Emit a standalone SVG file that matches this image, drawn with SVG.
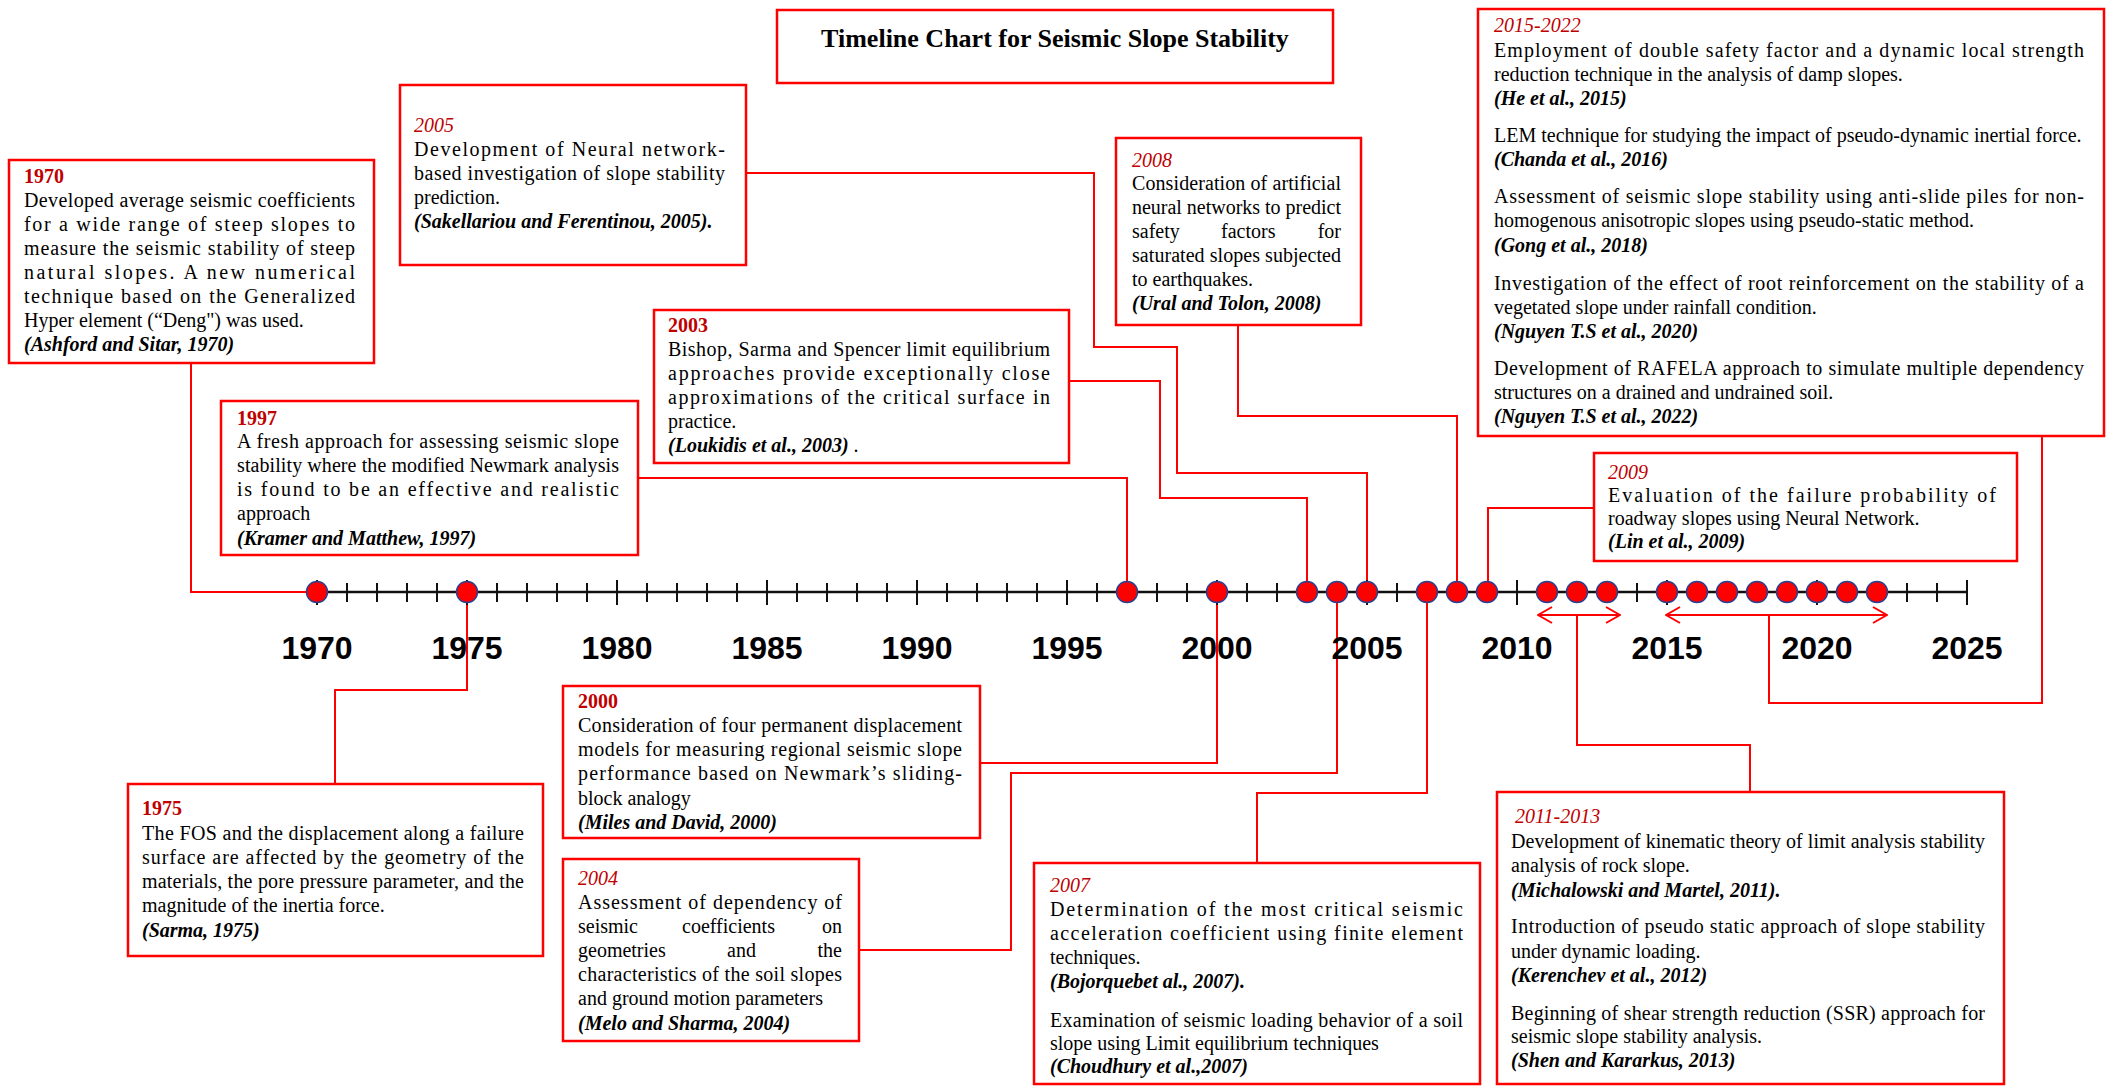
<svg xmlns="http://www.w3.org/2000/svg" width="2109" height="1087" viewBox="0 0 2109 1087">
<style>
.box{fill:#fff;stroke:#ff0000;stroke-width:2.5}
.t{font-family:'Liberation Serif','Times New Roman',serif;font-size:20px;fill:#000}
.yr{fill:#c00000;font-weight:bold}
.yi{fill:#c00000;font-style:italic}
.ci{font-weight:bold;font-style:italic}
.conn{fill:none;stroke:#ff0000;stroke-width:2}
.ax{stroke:#111;stroke-width:2.5}
.tk{stroke:#111;stroke-width:2}
.dot{fill:#ff0000;stroke:#2a3f8f;stroke-width:1.5}
.lab{font-family:'Liberation Sans',Arial,sans-serif;font-weight:bold;font-size:32px;text-anchor:middle;fill:#000}
.title{font-family:'Liberation Serif','Times New Roman',serif;font-size:26px;font-weight:bold;text-anchor:middle}
.e{text-anchor:end}
</style>
<defs>
<marker id="chev" viewBox="0 0 16 18" refX="15" refY="9" markerWidth="16" markerHeight="18" markerUnits="userSpaceOnUse" orient="auto-start-reverse">
<path d="M1,1 L15,9 L1,17" fill="none" stroke="#ff0000" stroke-width="2"/>
</marker>
</defs>
<rect width="2109" height="1087" fill="#fff"/>

<g id="connectors">
<path class="conn" d="M191,363 V592 H306"/>
<path class="conn" d="M467,602 V690 H335 V784"/>
<path class="conn" d="M638,478 H1127 V582"/>
<path class="conn" d="M746,173 H1094 V347 H1177 V473 H1367 V582"/>
<path class="conn" d="M1069,381 H1160 V498 H1307 V582"/>
<path class="conn" d="M980,763 H1217 V602"/>
<path class="conn" d="M859,950 H1011 V773 H1337 V602"/>
<path class="conn" d="M1427,602 V793 H1257 V863"/>
<path class="conn" d="M1238,325 V416 H1457 V582"/>
<path class="conn" d="M1594,508 H1488 V582"/>
<path class="conn" d="M1577,615 V745 H1750 V792"/>
<path class="conn" d="M1769,615 V703 H2042 V436"/>
<line class="conn" x1="1538" y1="615" x2="1620" y2="615" marker-start="url(#chev)" marker-end="url(#chev)"/>
<line class="conn" x1="1666" y1="615" x2="1887" y2="615" marker-start="url(#chev)" marker-end="url(#chev)"/>
</g>

<g id="timeline">
<line class="ax" x1="317" y1="592" x2="1967" y2="592"/>
<g class="tk">
<line x1="317" y1="580" x2="317" y2="605"/><line x1="347" y1="583" x2="347" y2="602"/><line x1="377" y1="583" x2="377" y2="602"/><line x1="407" y1="583" x2="407" y2="602"/><line x1="437" y1="583" x2="437" y2="602"/>
<line x1="467" y1="580" x2="467" y2="605"/><line x1="497" y1="583" x2="497" y2="602"/><line x1="527" y1="583" x2="527" y2="602"/><line x1="557" y1="583" x2="557" y2="602"/><line x1="587" y1="583" x2="587" y2="602"/>
<line x1="617" y1="580" x2="617" y2="605"/><line x1="647" y1="583" x2="647" y2="602"/><line x1="677" y1="583" x2="677" y2="602"/><line x1="707" y1="583" x2="707" y2="602"/><line x1="737" y1="583" x2="737" y2="602"/>
<line x1="767" y1="580" x2="767" y2="605"/><line x1="797" y1="583" x2="797" y2="602"/><line x1="827" y1="583" x2="827" y2="602"/><line x1="857" y1="583" x2="857" y2="602"/><line x1="887" y1="583" x2="887" y2="602"/>
<line x1="917" y1="580" x2="917" y2="605"/><line x1="947" y1="583" x2="947" y2="602"/><line x1="977" y1="583" x2="977" y2="602"/><line x1="1007" y1="583" x2="1007" y2="602"/><line x1="1037" y1="583" x2="1037" y2="602"/>
<line x1="1067" y1="580" x2="1067" y2="605"/><line x1="1097" y1="583" x2="1097" y2="602"/><line x1="1127" y1="583" x2="1127" y2="602"/><line x1="1157" y1="583" x2="1157" y2="602"/><line x1="1187" y1="583" x2="1187" y2="602"/>
<line x1="1217" y1="580" x2="1217" y2="605"/><line x1="1247" y1="583" x2="1247" y2="602"/><line x1="1277" y1="583" x2="1277" y2="602"/><line x1="1307" y1="583" x2="1307" y2="602"/><line x1="1337" y1="583" x2="1337" y2="602"/>
<line x1="1367" y1="580" x2="1367" y2="605"/><line x1="1397" y1="583" x2="1397" y2="602"/><line x1="1427" y1="583" x2="1427" y2="602"/><line x1="1457" y1="583" x2="1457" y2="602"/><line x1="1487" y1="583" x2="1487" y2="602"/>
<line x1="1517" y1="580" x2="1517" y2="605"/><line x1="1547" y1="583" x2="1547" y2="602"/><line x1="1577" y1="583" x2="1577" y2="602"/><line x1="1607" y1="583" x2="1607" y2="602"/><line x1="1637" y1="583" x2="1637" y2="602"/>
<line x1="1667" y1="580" x2="1667" y2="605"/><line x1="1697" y1="583" x2="1697" y2="602"/><line x1="1727" y1="583" x2="1727" y2="602"/><line x1="1757" y1="583" x2="1757" y2="602"/><line x1="1787" y1="583" x2="1787" y2="602"/>
<line x1="1817" y1="580" x2="1817" y2="605"/><line x1="1847" y1="583" x2="1847" y2="602"/><line x1="1877" y1="583" x2="1877" y2="602"/><line x1="1907" y1="583" x2="1907" y2="602"/><line x1="1937" y1="583" x2="1937" y2="602"/>
<line x1="1967" y1="580" x2="1967" y2="605"/>
</g>
<g class="dot">
<circle cx="317" cy="592" r="10.5"/><circle cx="467" cy="592" r="10.5"/><circle cx="1127" cy="592" r="10.5"/><circle cx="1217" cy="592" r="10.5"/>
<circle cx="1307" cy="592" r="10.5"/><circle cx="1337" cy="592" r="10.5"/><circle cx="1367" cy="592" r="10.5"/><circle cx="1427" cy="592" r="10.5"/>
<circle cx="1457" cy="592" r="10.5"/><circle cx="1487" cy="592" r="10.5"/><circle cx="1547" cy="592" r="10.5"/><circle cx="1577" cy="592" r="10.5"/>
<circle cx="1607" cy="592" r="10.5"/><circle cx="1667" cy="592" r="10.5"/><circle cx="1697" cy="592" r="10.5"/><circle cx="1727" cy="592" r="10.5"/>
<circle cx="1757" cy="592" r="10.5"/><circle cx="1787" cy="592" r="10.5"/><circle cx="1817" cy="592" r="10.5"/><circle cx="1847" cy="592" r="10.5"/>
<circle cx="1877" cy="592" r="10.5"/>
</g>
<g class="lab">
<text x="317" y="659">1970</text><text x="467" y="659">1975</text><text x="617" y="659">1980</text><text x="767" y="659">1985</text>
<text x="917" y="659">1990</text><text x="1067" y="659">1995</text><text x="1217" y="659">2000</text><text x="1367" y="659">2005</text>
<text x="1517" y="659">2010</text><text x="1667" y="659">2015</text><text x="1817" y="659">2020</text><text x="1967" y="659">2025</text>
</g>
</g>

<g id="title">
<rect class="box" x="777" y="10" width="556" height="73"/>
<text class="title" x="1055" y="47">Timeline Chart for Seismic Slope Stability</text>
</g>

<g id="n1970">
<rect class="box" x="9" y="160" width="365" height="203"/>
<g class="t">
<text class="yr" x="24" y="183">1970</text>
<text x="24" y="207" textLength="331" lengthAdjust="spacing">Developed average seismic coefficients</text>
<text x="24" y="231" textLength="331" lengthAdjust="spacing">for a wide range of steep slopes to</text>
<text x="24" y="255" textLength="331" lengthAdjust="spacing">measure the seismic stability of steep</text>
<text x="24" y="279" textLength="331" lengthAdjust="spacing">natural slopes. A new numerical</text>
<text x="24" y="303" textLength="331" lengthAdjust="spacing">technique based on the Generalized</text>
<text x="24" y="327">Hyper element (“Deng") was used.</text>
<text class="ci" x="24" y="351">(Ashford and Sitar, 1970)</text>
</g>
</g>

<g id="n2005">
<rect class="box" x="400" y="85" width="346" height="180"/>
<g class="t">
<text class="yi" x="414" y="132">2005</text>
<text x="414" y="156" textLength="311" lengthAdjust="spacing">Development of Neural network-</text>
<text x="414" y="180" textLength="311" lengthAdjust="spacing">based investigation of slope stability</text>
<text x="414" y="204">prediction.</text>
<text class="ci" x="414" y="228">(Sakellariou and Ferentinou, 2005).</text>
</g>
</g>

<g id="n2003">
<rect class="box" x="654" y="310" width="415" height="153"/>
<g class="t">
<text class="yr" x="668" y="332">2003</text>
<text x="668" y="356" textLength="382" lengthAdjust="spacing">Bishop, Sarma and Spencer limit equilibrium</text>
<text x="668" y="380" textLength="382" lengthAdjust="spacing">approaches provide exceptionally close</text>
<text x="668" y="404" textLength="382" lengthAdjust="spacing">approximations of the critical surface in</text>
<text x="668" y="428">practice.</text>
<text x="668" y="452"><tspan class="ci">(Loukidis et al., 2003)</tspan> .</text>
</g>
</g>

<g id="n1997">
<rect class="box" x="221" y="401" width="417" height="154"/>
<g class="t">
<text class="yr" x="237" y="425">1997</text>
<text x="237" y="448" textLength="382" lengthAdjust="spacing">A fresh approach for assessing seismic slope</text>
<text x="237" y="472" textLength="382" lengthAdjust="spacing">stability where the modified Newmark analysis</text>
<text x="237" y="496" textLength="382" lengthAdjust="spacing">is found to be an effective and realistic</text>
<text x="237" y="520">approach</text>
<text class="ci" x="237" y="545">(Kramer and Matthew, 1997)</text>
</g>
</g>

<g id="n2008">
<rect class="box" x="1116" y="138" width="245" height="187"/>
<g class="t">
<text class="yi" x="1132" y="167">2008</text>
<text x="1132" y="190" textLength="209" lengthAdjust="spacing">Consideration of artificial</text>
<text x="1132" y="214" textLength="209" lengthAdjust="spacing">neural networks to predict</text>
<text x="1132" y="238">safety</text><text x="1221" y="238">factors</text><text class="e" x="1341" y="238">for</text>
<text x="1132" y="262" textLength="209" lengthAdjust="spacing">saturated slopes subjected</text>
<text x="1132" y="286">to earthquakes.</text>
<text class="ci" x="1132" y="310">(Ural and Tolon, 2008)</text>
</g>
</g>

<g id="n2015">
<rect class="box" x="1478" y="9" width="626" height="427"/>
<g class="t">
<text class="yi" x="1494" y="32">2015-2022</text>
<text x="1494" y="57" textLength="590" lengthAdjust="spacing">Employment of double safety factor and a dynamic local strength</text>
<text x="1494" y="81">reduction technique in the analysis of damp slopes.</text>
<text class="ci" x="1494" y="105">(He et al., 2015)</text>
<text x="1494" y="142">LEM technique for studying the impact of pseudo-dynamic inertial force.</text>
<text class="ci" x="1494" y="166">(Chanda et al., 2016)</text>
<text x="1494" y="203" textLength="590" lengthAdjust="spacing">Assessment of seismic slope stability using anti-slide piles for non-</text>
<text x="1494" y="227">homogenous anisotropic slopes using pseudo-static method.</text>
<text class="ci" x="1494" y="252">(Gong et al., 2018)</text>
<text x="1494" y="290" textLength="590" lengthAdjust="spacing">Investigation of the effect of root reinforcement on the stability of a</text>
<text x="1494" y="314">vegetated slope under rainfall condition.</text>
<text class="ci" x="1494" y="338">(Nguyen T.S et al., 2020)</text>
<text x="1494" y="375" textLength="590" lengthAdjust="spacing">Development of RAFELA approach to simulate multiple dependency</text>
<text x="1494" y="399">structures on a drained and undrained soil.</text>
<text class="ci" x="1494" y="423">(Nguyen T.S et al., 2022)</text>
</g>
</g>

<g id="n2009">
<rect class="box" x="1594" y="453" width="423" height="108"/>
<g class="t">
<text class="yi" x="1608" y="479">2009</text>
<text x="1608" y="502" textLength="388" lengthAdjust="spacing">Evaluation of the failure probability of</text>
<text x="1608" y="525">roadway slopes using Neural Network.</text>
<text class="ci" x="1608" y="548">(Lin et al., 2009)</text>
</g>
</g>

<g id="n1975">
<rect class="box" x="128" y="784" width="415" height="172"/>
<g class="t">
<text class="yr" x="142" y="815">1975</text>
<text x="142" y="840" textLength="382" lengthAdjust="spacing">The FOS and the displacement along a failure</text>
<text x="142" y="864" textLength="382" lengthAdjust="spacing">surface are affected by the geometry of the</text>
<text x="142" y="888" textLength="382" lengthAdjust="spacing">materials, the pore pressure parameter, and the</text>
<text x="142" y="912">magnitude of the inertia force.</text>
<text class="ci" x="142" y="937">(Sarma, 1975)</text>
</g>
</g>

<g id="n2000">
<rect class="box" x="563" y="686" width="417" height="152"/>
<g class="t">
<text class="yr" x="578" y="708">2000</text>
<text x="578" y="732" textLength="384" lengthAdjust="spacing">Consideration of four permanent displacement</text>
<text x="578" y="756" textLength="384" lengthAdjust="spacing">models for measuring regional seismic slope</text>
<text x="578" y="780" textLength="384" lengthAdjust="spacing">performance based on Newmark’s sliding-</text>
<text x="578" y="805">block analogy</text>
<text class="ci" x="578" y="829">(Miles and David, 2000)</text>
</g>
</g>

<g id="n2004">
<rect class="box" x="563" y="859" width="296" height="182"/>
<g class="t">
<text class="yi" x="578" y="885">2004</text>
<text x="578" y="909" textLength="264" lengthAdjust="spacing">Assessment of dependency of</text>
<text x="578" y="933">seismic</text><text x="682" y="933">coefficients</text><text class="e" x="842" y="933">on</text>
<text x="578" y="957">geometries</text><text x="727" y="957">and</text><text class="e" x="842" y="957">the</text>
<text x="578" y="981" textLength="264" lengthAdjust="spacing">characteristics of the soil slopes</text>
<text x="578" y="1005">and ground motion parameters</text>
<text class="ci" x="578" y="1030">(Melo and Sharma, 2004)</text>
</g>
</g>

<g id="n2007">
<rect class="box" x="1034" y="863" width="446" height="221"/>
<g class="t">
<text class="yi" x="1050" y="892">2007</text>
<text x="1050" y="916" textLength="413" lengthAdjust="spacing">Determination of the most critical seismic</text>
<text x="1050" y="940" textLength="413" lengthAdjust="spacing">acceleration coefficient using finite element</text>
<text x="1050" y="964">techniques.</text>
<text class="ci" x="1050" y="988">(Bojorquebet al., 2007).</text>
<text x="1050" y="1027" textLength="413" lengthAdjust="spacing">Examination of seismic loading behavior of a soil</text>
<text x="1050" y="1050">slope using Limit equilibrium techniques</text>
<text class="ci" x="1050" y="1073">(Choudhury et al.,2007)</text>
</g>
</g>

<g id="n2011">
<rect class="box" x="1497" y="792" width="507" height="292"/>
<g class="t">
<text class="yi" x="1515" y="823">2011-2013</text>
<text x="1511" y="848" textLength="474" lengthAdjust="spacing">Development of kinematic theory of limit analysis stability</text>
<text x="1511" y="872">analysis of rock slope.</text>
<text class="ci" x="1511" y="897">(Michalowski and Martel, 2011).</text>
<text x="1511" y="933" textLength="474" lengthAdjust="spacing">Introduction of pseudo static approach of slope stability</text>
<text x="1511" y="958">under dynamic loading.</text>
<text class="ci" x="1511" y="982">(Kerenchev et al., 2012)</text>
<text x="1511" y="1020" textLength="474" lengthAdjust="spacing">Beginning of shear strength reduction (SSR) approach for</text>
<text x="1511" y="1043">seismic slope stability analysis.</text>
<text class="ci" x="1511" y="1067">(Shen and Kararkus, 2013)</text>
</g>
</g>
</svg>
